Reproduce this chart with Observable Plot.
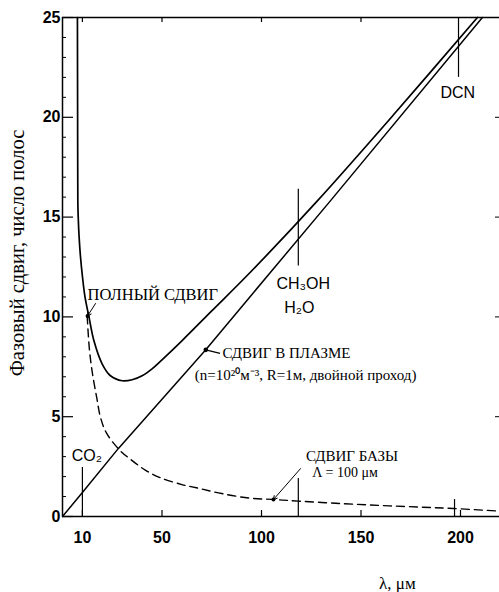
<!DOCTYPE html>
<html><head><meta charset="utf-8">
<script src="https://cdn.jsdelivr.net/npm/d3@7"></script>
<script src="https://cdn.jsdelivr.net/npm/@observablehq/plot@0.6"></script>
<style>
html,body{margin:0;padding:0;background:#fff;}
#chart svg{display:block;background:#fff;}
</style>
</head><body><div id="chart"></div>
<script>
// Total phase shift (solid curve)
const totalLambda = [7.5, 7.6, 7.7, 7.9, 8.35, 9.05, 10.05, 11.3, 13.3, 15.8, 19.9, 24.1, 30, 35, 40, 45, 50, 60, 75, 95, 127.5, 167, 208.5];
const totalShift  = [25, 20, 15.8, 15, 14, 13, 12, 11, 10, 8.8, 7.65, 7.05, 6.8, 6.85, 7.05, 7.4, 7.85, 8.8, 10.3, 12.3, 15.75, 20.2, 25];
// Plasma phase shift (straight line)
const plasmaLambda = [0, 10, 28, 72, 95, 134.5, 211];
const plasmaShift  = [0, 1.2, 3.4, 8.35, 11.1, 15.8, 25];
// Base phase shift (dashed curve)
const baseLambda = [12.4, 13.5, 15, 17.3, 19, 22, 28.5, 35, 42, 49, 60, 69, 80, 94, 106.5, 118.5, 140, 160.5, 180, 196.5, 219.6];
const baseShift  = [10.05, 8.4, 7.2, 5.9, 5.0, 4.2, 3.35, 2.8, 2.3, 1.95, 1.6, 1.4, 1.15, 0.92, 0.85, 0.77, 0.65, 0.55, 0.47, 0.4, 0.27];
// Laser line markers
const markerLambda = [10, 118.5, 118.5, 199, 197];
const markerFrom   = [0, 12.55, 0, 22, 0];
const markerTo     = [2.45, 16.4, 1.9, 25, 0.85];
// Axis ticks
const xTicks = [10, 50, 100, 150, 200];
const yTicks = [0, 5, 10, 15, 20, 25];
const yMinor = [1,2,3,4,6,7,8,9,11,12,13,14,16,17,18,19,21,22,23,24];
const rightTicks = [5, 10, 15, 20];
const xDomain = [0, 219.6];
const yDomain = [0, 25];

const zip = (xs, ys) => xs.map((x, i) => ({x, y: ys[i]}));
const total = zip(totalLambda, totalShift);
const plasma = zip(plasmaLambda, plasmaShift);
const base = zip(baseLambda, baseShift);
const markers = markerLambda.map((x, i) => ({x, y1: markerFrom[i], y2: markerTo[i]}));

const serif = "'Liberation Serif', 'Times New Roman', serif";
const sans = "'Liberation Sans', Arial, sans-serif";

const labels = [
  {x: 12.6, y: 11.1, t: "ПОЛНЫЙ СДВИГ", f: serif, s: 16.5, a: "start"},
  {x: 80.4, y: 8.17, t: "СДВИГ В ПЛАЗМЕ", f: serif, s: 15, a: "start"},
  {x: 66.5, y: 7.1, t: "(n=10²⁰м⁻³, R=1м, двойной проход)", f: serif, s: 15, a: "start"},
  {x: 145.5, y: 3.0, t: "СДВИГ БАЗЫ", f: serif, s: 15, a: "middle"},
  {x: 142, y: 2.2, t: "Λ = 100 μм", f: serif, s: 14, a: "middle"},
  {x: 121, y: 11.67, t: "CH₃OH", f: sans, s: 16, a: "middle"},
  {x: 119, y: 10.47, t: "H₂O", f: sans, s: 16, a: "middle"},
  {x: 198.6, y: 21.2, t: "DCN", f: sans, s: 16, a: "middle"},
  {x: 12.2, y: 3.05, t: "CO₂", f: sans, s: 16, a: "middle"}
];
const arrows = [
  {x1: 16.6, y1: 10.67, x2: 12.6, y2: 10.05},
  {x1: 119.6, y1: 2.4, x2: 106, y2: 0.85}
];
const plasmaPointer = [{x1: 72, y1: 8.35, x2: 79.2, y2: 8.17}];

const textMarks = labels.map(d => Plot.text([d], {
  x: "x", y: "y", text: "t", fontFamily: d.f, fontSize: d.s, textAnchor: d.a,
  lineAnchor: "middle", fontWeight: "normal", fill: "black"
}));

const chart = Plot.plot({
  width: 499,
  height: 592,
  marginLeft: 62,
  marginRight: 0,
  marginTop: 17,
  marginBottom: 76,
  style: {fontFamily: sans, fontSize: "16px", fontWeight: "bold", color: "black", background: "white"},
  x: {domain: xDomain, ticks: xTicks, tickSize: 0, tickPadding: 15, label: null, tickFormat: d => String(d)},
  y: {domain: yDomain, ticks: yTicks, tickSize: 0, tickPadding: 2, label: null, tickFormat: d => String(d)},
  marks: [
    // frame lines
    Plot.ruleX([0], {stroke: "black", strokeWidth: 1.5}),
    Plot.ruleY([0], {stroke: "black", strokeWidth: 1.5}),
    Plot.ruleY([25], {stroke: "black", strokeWidth: 1.3}),
    // left ticks
    Plot.ruleY(yTicks, {y: d => d, x1: 0, x2: 0, insetRight: -11, stroke: "black", strokeWidth: 1.2}),
    Plot.ruleY(yMinor, {y: d => d, x1: 0, x2: 0, insetRight: -4, stroke: "black", strokeWidth: 1}),
    // right ticks
    Plot.ruleY(rightTicks, {y: d => d, x1: xDomain[1], x2: xDomain[1], insetLeft: -4, stroke: "black", strokeWidth: 1}),
    // bottom & top ticks
    Plot.ruleX(xTicks, {x: d => d, y1: 0, y2: 0, insetBottom: 6, stroke: "black", strokeWidth: 1.2}),
    Plot.ruleX(xTicks.slice(0, 4), {x: d => d, y1: 25, y2: 25, insetTop: 5, stroke: "black", strokeWidth: 1.2}),
    // marker lines
    Plot.ruleX(markers, {x: "x", y1: "y1", y2: "y2", stroke: "black", strokeWidth: 1.2}),
    // curves
    Plot.line(base, {x: "x", y: "y", curve: "catmull-rom", stroke: "black", strokeWidth: 1.4, strokeDasharray: "8,5"}),
    Plot.line(plasma, {x: "x", y: "y", stroke: "black", strokeWidth: 1.5}),
    Plot.line(total, {x: "x", y: "y", curve: "catmull-rom", stroke: "black", strokeWidth: 1.7}),
    // pointers
    Plot.arrow(arrows, {x1: "x1", y1: "y1", x2: "x2", y2: "y2", stroke: "black", strokeWidth: 1, headLength: 6}),
    Plot.dot(arrows, {x: "x2", y: "y2", r: 2, fill: "black"}),
    Plot.link(plasmaPointer, {x1: "x1", y1: "y1", x2: "x2", y2: "y2", stroke: "black", strokeWidth: 1.2}),
    Plot.dot(plasmaPointer, {x: "x1", y: "y1", r: 2.3, fill: "black"}),
    // labels
    ...textMarks,
    // axis titles
    Plot.text(["Фазовый сдвиг, число полос"], {frameAnchor: "left", y: [13.2], dx: -45, rotate: -90,
      fontFamily: serif, fontSize: 20.5, fontWeight: "normal", textAnchor: "middle", lineAnchor: "middle", fill: "black"}),
    Plot.text(["λ, μм"], {frameAnchor: "bottom", x: [168.3], dy: 67,
      fontFamily: serif, fontSize: 17, fontWeight: "normal", textAnchor: "middle", lineAnchor: "middle", fill: "black"})
  ]
});
document.getElementById("chart").appendChild(chart);
</script>
</body></html>
